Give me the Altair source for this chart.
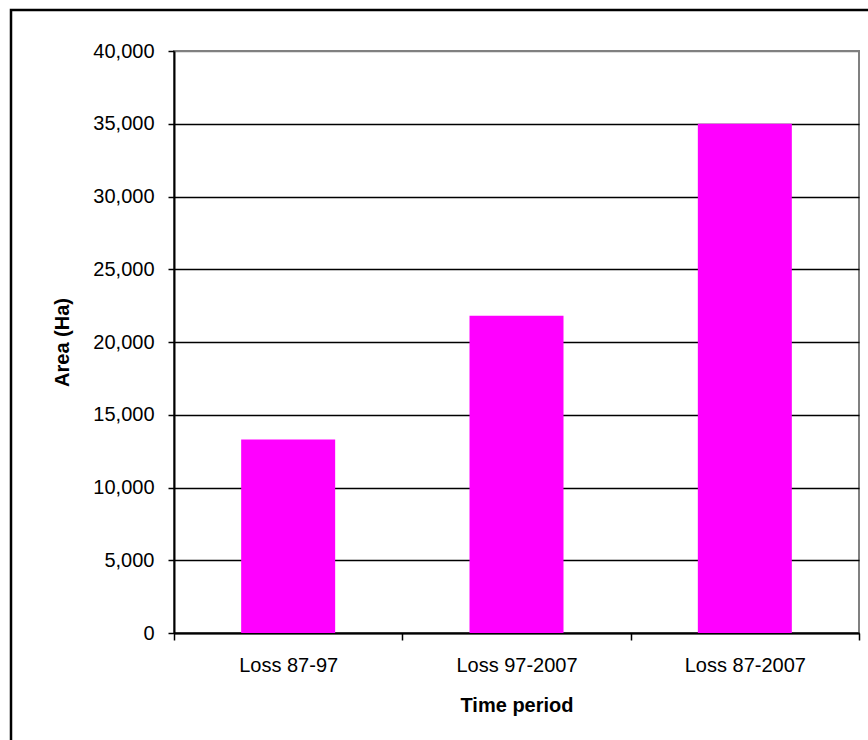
import altair as alt
import pandas as pd

categories = ["Loss 87-97", "Loss 97-2007", "Loss 87-2007"]
areas = [13300, 21800, 35000]
y_ticks = [0, 5000, 10000, 15000, 20000, 25000, 30000, 35000, 40000]

df = pd.DataFrame({"period": categories, "area": areas})
FONT = "Liberation Sans"

bars = alt.Chart(df).mark_bar(size=94, color="#FF00FF").encode(
    x=alt.X(
        "period:N",
        sort=categories,
        scale=alt.Scale(paddingInner=0, paddingOuter=0),
        axis=alt.Axis(
            title="Time period",
            labelAngle=0,
            labelFont=FONT,
            labelFontSize=20,
            labelColor="black",
            labelPadding=15,
            tickBand="extent",
            tickSize=7,
            tickColor="black",
            tickWidth=1.5,
            domainColor="black",
            domainWidth=2,
            titleFont=FONT,
            titleFontSize=20,
            titleFontWeight="bold",
            titleColor="black",
            titlePadding=20,
            grid=False,
        ),
    ),
    y=alt.Y(
        "area:Q",
        scale=alt.Scale(domain=[0, 40000], nice=False),
        axis=alt.Axis(
            title="Area (Ha)",
            values=y_ticks,
            format=",d",
            labelFont=FONT,
            labelFontSize=20,
            labelColor="black",
            labelPadding=14,
            tickSize=6,
            tickColor="black",
            tickWidth=1.5,
            domainColor="black",
            domainWidth=2,
            grid=True,
            gridColor=alt.condition("datum.value == 40000", alt.value("#808080"), alt.value("black")),
            gridWidth=1.6,
            titleFont=FONT,
            titleFontSize=20,
            titleFontWeight="bold",
            titleColor="black",
            titlePadding=20,
        ),
    ),
)

frame = alt.Chart(pd.DataFrame({"k": [0]})).mark_rect(
    fill=None, stroke="black", strokeWidth=2.5
).encode(
    x=alt.value(-163), x2=alt.value(720), y=alt.value(-41), y2=alt.value(720)
)

chart = alt.layer(bars, frame).properties(
    width=685,
    height=582,
    autosize=alt.AutoSizeParams(type="none"),
    padding={"left": 174, "top": 51, "right": 9, "bottom": 107},
    background="white",
).configure_view(stroke="#808080", strokeWidth=2)

chart.save("out.html", embed_options={"renderer": "svg", "actions": False})
